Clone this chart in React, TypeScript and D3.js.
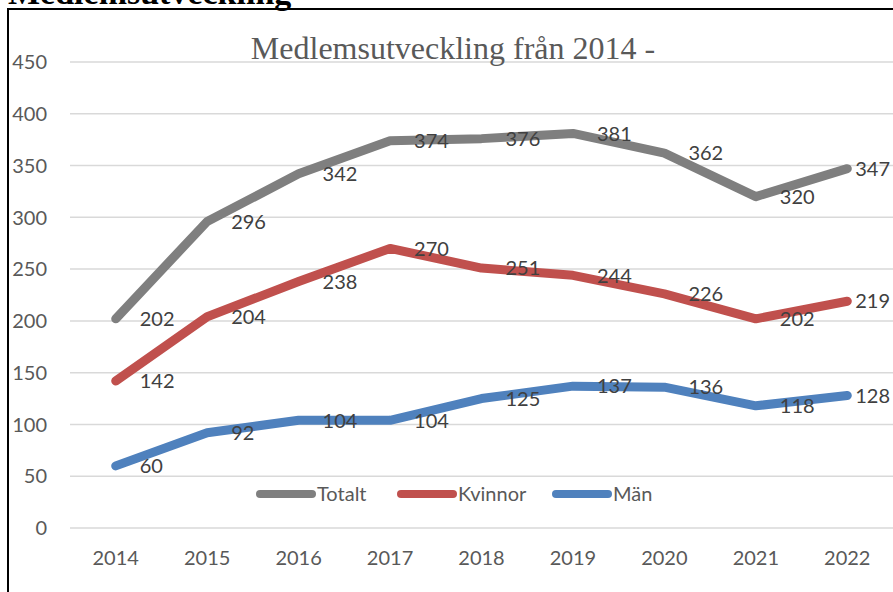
import React, { useEffect, useRef } from "react";
import * as d3 from "d3";

const years = ["2014", "2015", "2016", "2017", "2018", "2019", "2020", "2021", "2022"];
const totalt = [202, 296, 342, 374, 376, 381, 362, 320, 347];
const kvinnor = [142, 204, 238, 270, 251, 244, 226, 202, 219];
const man = [60, 92, 104, 104, 125, 137, 136, 118, 128];
const seriesNames = ["Totalt", "Kvinnor", "Män"];
const yTicks = [0, 50, 100, 150, 200, 250, 300, 350, 400, 450];

const colors = ["#7f7f7f", "#c0504d", "#4f81bd"];
const numFont = "Lato, 'Open Sans', sans-serif";

export default function App() {
  const ref = useRef<SVGSVGElement>(null);

  useEffect(() => {
    document.body.style.overflow = "hidden";
    const svg = d3.select(ref.current);
    svg.selectAll("*").remove();

    const H = 592;
    const left = 70;
    const right = 893;
    const top = 62;
    const bottom = 528;

    // heading cut off at the top of the page
    svg
      .append("text")
      .attr("x", 8)
      .attr("y", 4)
      .attr("font-family", "'Liberation Serif', 'Times New Roman', serif")
      .attr("font-weight", "bold")
      .attr("font-size", 34)
      .attr("fill", "#000")
      .text("Medlemsutveckling");

    // chart frame (left + top edges visible)
    svg
      .append("path")
      .attr("d", `M8,${H + 5} L8,9 L900,9`)
      .attr("fill", "none")
      .attr("stroke", "#000")
      .attr("stroke-width", 2);

    const x = d3.scaleBand().domain(years).range([left, right]);
    const y = d3.scaleLinear().domain([0, 450]).range([bottom, top]);
    const cx = (d: string) => (x(d) as number) + x.bandwidth() / 2;

    // gridlines
    svg
      .append("g")
      .selectAll("line")
      .data(yTicks)
      .enter()
      .append("line")
      .attr("x1", left)
      .attr("x2", right)
      .attr("y1", (d) => y(d))
      .attr("y2", (d) => y(d))
      .attr("stroke", "#d9d9d9")
      .attr("stroke-width", 1.5);

    // y tick labels
    svg
      .append("g")
      .selectAll("text")
      .data(yTicks)
      .enter()
      .append("text")
      .attr("x", 47)
      .attr("y", (d) => y(d))
      .attr("dy", "0.36em")
      .attr("text-anchor", "end")
      .attr("font-family", numFont)
      .attr("font-size", 20)
      .attr("fill", "#595959")
      .text((d) => d);

    // x tick labels
    svg
      .append("g")
      .selectAll("text")
      .data(years)
      .enter()
      .append("text")
      .attr("x", (d) => cx(d))
      .attr("y", 558)
      .attr("dy", "0.36em")
      .attr("text-anchor", "middle")
      .attr("font-family", numFont)
      .attr("font-size", 20)
      .attr("fill", "#595959")
      .text((d) => d);

    // title
    svg
      .append("text")
      .attr("x", 453)
      .attr("y", 59)
      .attr("text-anchor", "middle")
      .attr("font-family", "'Liberation Serif', 'Times New Roman', serif")
      .attr("font-size", 32)
      .attr("fill", "#595959")
      .text("Medlemsutveckling från 2014 -");

    const line = d3
      .line<number>()
      .x((d, i) => cx(years[i]))
      .y((d) => y(d));

    const allSeries = [totalt, kvinnor, man];

    allSeries.forEach((vals, s) => {
      svg
        .append("path")
        .attr("d", line(vals))
        .attr("fill", "none")
        .attr("stroke", colors[s])
        .attr("stroke-width", 9)
        .attr("stroke-linecap", "round")
        .attr("stroke-linejoin", "round");
    });

    // data labels, to the right of each point (last one pushed in to fit)
    const last = years.length - 1;
    allSeries.forEach((vals) => {
      svg
        .append("g")
        .selectAll("text")
        .data(vals)
        .enter()
        .append("text")
        .attr("x", (d, i) => cx(years[i]) + (i === last ? 8 : 24))
        .attr("y", (d) => y(d))
        .attr("dy", "0.36em")
        .attr("font-family", numFont)
        .attr("font-size", 20)
        .attr("fill", "#404040")
        .text((d) => d);
    });

    // legend
    const legendX = [257, 398, 553];
    const lg = svg.append("g");
    seriesNames.forEach((name, s) => {
      lg.append("line")
        .attr("x1", legendX[s] + 3)
        .attr("x2", legendX[s] + 55)
        .attr("y1", 494)
        .attr("y2", 494)
        .attr("stroke", colors[s])
        .attr("stroke-width", 8)
        .attr("stroke-linecap", "round");
      lg.append("text")
        .attr("x", legendX[s] + 60)
        .attr("y", 494)
        .attr("dy", "0.36em")
        .attr("font-family", numFont)
        .attr("font-size", 20)
        .attr("fill", "#595959")
        .text(name);
    });
  }, []);

  return (
    <svg
      ref={ref}
      width={893}
      height={592}
      style={{ position: "absolute", left: 0, top: 0, background: "#fff" }}
    />
  );
}
